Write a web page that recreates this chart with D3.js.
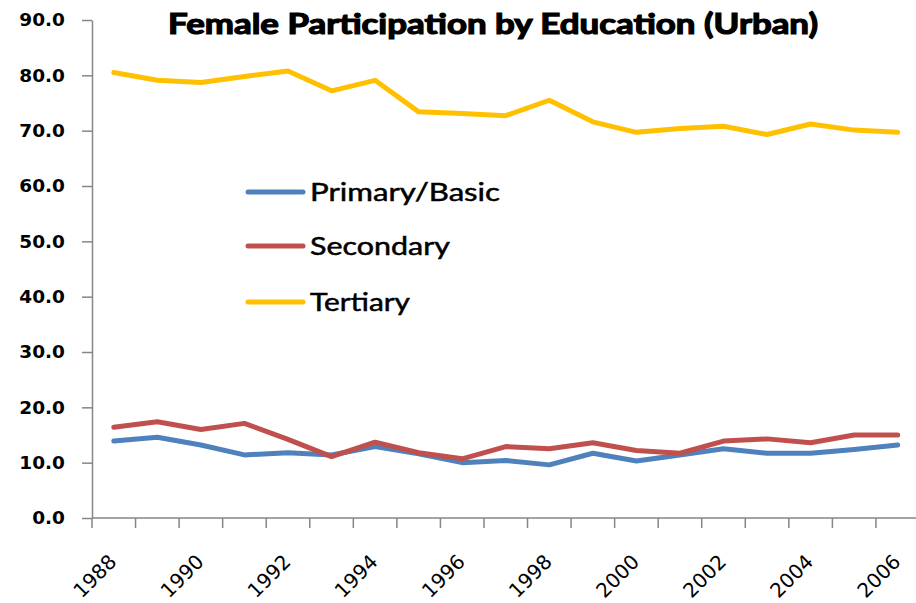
<!DOCTYPE html>
<html>
<head>
<meta charset="utf-8">
<script src="https://cdn.jsdelivr.net/npm/d3@7"></script>
<style>
  html, body { margin: 0; padding: 0; background: #fff; }
  svg { display: block; }
</style>
</head>
<body>
<svg id="chart" width="916" height="603"></svg>
<script>
const years = ["1988","1989","1990","1991","1992","1993","1994","1995","1996","1997","1998","1999","2000","2001","2002","2003","2004","2005","2006"];
const yearLabels = ["1988","1990","1992","1994","1996","1998","2000","2002","2004","2006"];
const primary   = [13.9,14.6,13.2,11.4,11.8,11.4,12.9,11.6,10.0,10.4,9.6,11.7,10.3,11.4,12.5,11.7,11.7,12.4,13.2];
const secondary = [16.4,17.4,16.0,17.1,14.2,11.1,13.7,11.8,10.7,12.9,12.5,13.6,12.2,11.7,13.9,14.3,13.6,15.0,15.0];
const tertiary  = [80.5,79.1,78.7,79.8,80.8,77.2,79.1,73.4,73.1,72.7,75.5,71.6,69.7,70.4,70.8,69.3,71.2,70.1,69.7];
const seriesNames = ["Primary/Basic","Secondary","Tertiary"];
const seriesColors = ["#4F81BD","#C0504D","#FFC000"];
const yTicks = [0,10,20,30,40,50,60,70,80,90];
const title = "Female Participation by Education (Urban)";

const svg = d3.select("#chart");
const axisColor = "#868686";

const x = d3.scaleBand().domain(years).range([92, 919.5]).padding(0);
const y = d3.scaleLinear().domain([0, 90]).range([518, 20]);

// Y axis
const yAxis = d3.axisLeft(y).tickValues(yTicks).tickFormat(d3.format(".1f"))
  .tickSizeInner(10).tickSizeOuter(0).tickPadding(17);
const gy = svg.append("g").attr("transform", "translate(92,0)").call(yAxis);
gy.select(".domain").attr("stroke", axisColor).attr("stroke-width", 1.5);
gy.selectAll(".tick line").attr("stroke", axisColor).attr("stroke-width", 1.5);
gy.selectAll(".tick text")
  .attr("font-family", "'DejaVu Sans', sans-serif")
  .attr("font-weight", "bold")
  .attr("font-size", 18.5)
  .attr("fill", "#000");

// X axis (band boundaries as ticks)
const bounds = years.map(d => x(d)).concat([x.range()[1]]);
const gx = svg.append("g");
gx.append("line")
  .attr("x1", x.range()[0]).attr("x2", x.range()[1])
  .attr("y1", y(0)).attr("y2", y(0))
  .attr("stroke", axisColor).attr("stroke-width", 1.5);
gx.selectAll("line.tk").data(bounds).enter().append("line")
  .attr("class", "tk")
  .attr("x1", d => d).attr("x2", d => d)
  .attr("y1", y(0)).attr("y2", y(0) + 10)
  .attr("stroke", axisColor).attr("stroke-width", 1.5);
gx.selectAll("text").data(yearLabels).enter().append("text")
  .attr("transform", d => `translate(${x(d) + x.bandwidth() / 2 + 4},${y(0) + 45}) rotate(-45)`)
  .attr("text-anchor", "end")
  .attr("font-family", "'DejaVu Sans', sans-serif")
  .attr("font-size", 20)
  .attr("fill", "#000")
  .text(d => d);

// Lines
const allSeries = [primary, secondary, tertiary];
const line = d3.line()
  .x((d, i) => x(years[i]) + x.bandwidth() / 2)
  .y(d => y(d));
allSeries.forEach((s, k) => {
  svg.append("path")
    .datum(s)
    .attr("fill", "none")
    .attr("stroke", seriesColors[k])
    .attr("stroke-width", 5)
    .attr("stroke-linejoin", "round")
    .attr("stroke-linecap", "round")
    .attr("d", line);
});

// Legend
const legendY = [192, 246, 302];
const legendW = [190, 140, 100];
seriesNames.forEach((name, k) => {
  svg.append("line")
    .attr("x1", 248).attr("x2", 303)
    .attr("y1", legendY[k]).attr("y2", legendY[k])
    .attr("stroke", seriesColors[k]).attr("stroke-width", 5)
    .attr("stroke-linecap", "round");
  svg.append("text")
    .attr("x", 310).attr("y", legendY[k] + 9)
    .attr("font-family", "Lato, 'Open Sans', sans-serif")
    .attr("font-size", 25)
    .attr("textLength", legendW[k])
    .attr("lengthAdjust", "spacingAndGlyphs")
    .attr("fill", "#000")
    .attr("stroke", "#000")
    .attr("stroke-width", 0.5)
    .text(name);
});

// Title
svg.append("text")
  .attr("x", 168).attr("y", 34)
  .attr("font-family", "Lato, 'Open Sans', sans-serif")
  .attr("font-weight", "bold")
  .attr("font-size", 28)
  .attr("textLength", 650)
  .attr("lengthAdjust", "spacingAndGlyphs")
  .attr("fill", "#000")
  .attr("stroke", "#000")
  .attr("stroke-width", 1.2)
  .text(title);
</script>
</body>
</html>
